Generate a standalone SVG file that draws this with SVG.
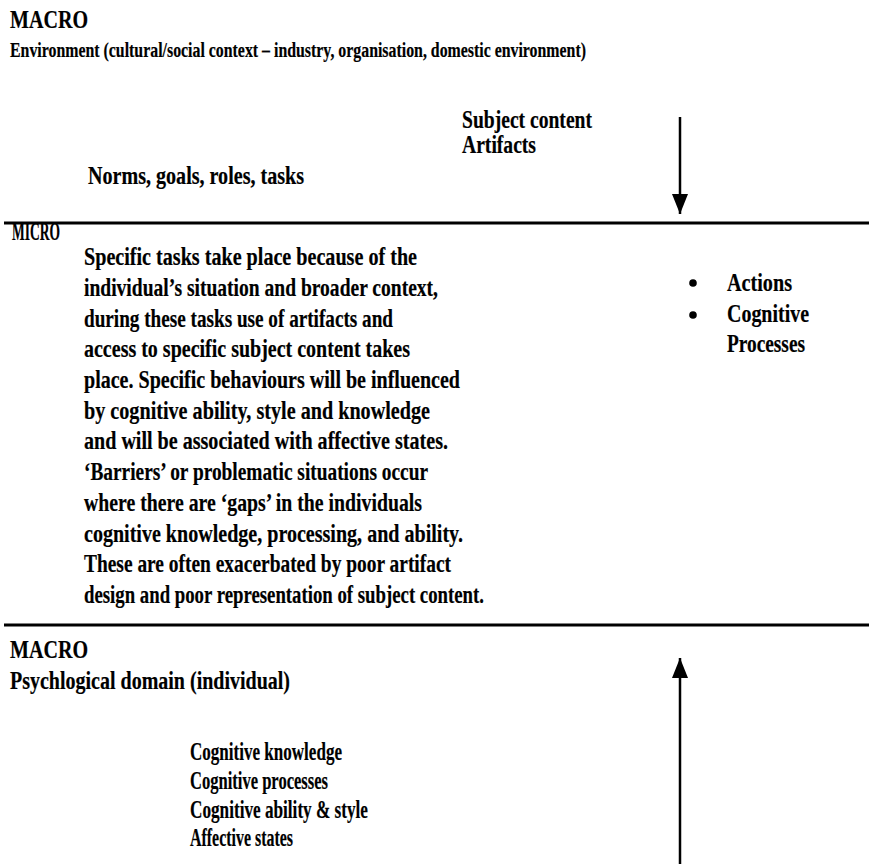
<svg xmlns="http://www.w3.org/2000/svg" width="873" height="864" viewBox="0 0 873 864">
  <style>
    text { font-family: "Liberation Serif", "Times New Roman", serif; font-size: 25px; font-weight: bold; fill: #000; stroke: #000; stroke-width: 0.2px; }
    .long { font-size: 22px; }
    .rule { stroke: #000; stroke-width: 3; }
    .flow { stroke: #000; stroke-width: 2.5; fill: none; }
  </style>
  <defs>
    <!-- solid triangular head, tip at the end of the line -->
    <marker id="head" viewBox="0 0 20 16" refX="20" refY="8" markerWidth="20" markerHeight="16" markerUnits="userSpaceOnUse" orient="auto">
      <path d="M0,0 L20,8 L0,16 Z" fill="#000"/>
    </marker>
  </defs>

  <!-- band separators -->
  <line class="rule" x1="4" y1="223" x2="869" y2="223"/>
  <line class="rule" x1="4" y1="625" x2="869" y2="625"/>

  <!-- upper macro level: environment -->
  <g id="macro-environment">
    <text x="10" y="28" textLength="78" lengthAdjust="spacingAndGlyphs">MACRO</text>
    <text class="long" x="10" y="57" textLength="576" lengthAdjust="spacingAndGlyphs">Environment (cultural/social context – industry, organisation, domestic environment)</text>
    <text x="462" y="128" textLength="130" lengthAdjust="spacingAndGlyphs">Subject content</text>
    <text x="462" y="153" textLength="74" lengthAdjust="spacingAndGlyphs">Artifacts</text>
    <text x="88" y="184" textLength="216" lengthAdjust="spacingAndGlyphs">Norms, goals, roles, tasks</text>
  </g>

  <!-- micro level: tasks and behaviours -->
  <g id="micro">
    <text x="12" y="240" textLength="48" lengthAdjust="spacingAndGlyphs">MICRO</text>
    <text x="84" y="265" textLength="333" lengthAdjust="spacingAndGlyphs">Specific tasks take place because of the</text>
    <text x="84" y="295.7" textLength="354" lengthAdjust="spacingAndGlyphs">individual’s situation and broader context,</text>
    <text x="84" y="326.5" textLength="309" lengthAdjust="spacingAndGlyphs">during these tasks use of artifacts and</text>
    <text x="84" y="357.2" textLength="326" lengthAdjust="spacingAndGlyphs">access to specific subject content takes</text>
    <text x="84" y="387.9" textLength="376" lengthAdjust="spacingAndGlyphs">place. Specific behaviours will be influenced</text>
    <text x="84" y="418.6" textLength="346" lengthAdjust="spacingAndGlyphs">by cognitive ability, style and knowledge</text>
    <text x="84" y="449.4" textLength="364" lengthAdjust="spacingAndGlyphs">and will be associated with affective states.</text>
    <text x="84" y="480.1" textLength="344" lengthAdjust="spacingAndGlyphs">‘Barriers’ or problematic situations occur</text>
    <text x="84" y="510.8" textLength="338" lengthAdjust="spacingAndGlyphs">where there are ‘gaps’ in the individuals</text>
    <text x="84" y="541.5" textLength="379" lengthAdjust="spacingAndGlyphs">cognitive knowledge, processing, and ability.</text>
    <text x="84" y="572.3" textLength="367" lengthAdjust="spacingAndGlyphs">These are often exacerbated by poor artifact</text>
    <text x="84" y="603" textLength="400" lengthAdjust="spacingAndGlyphs">design and poor representation of subject content.</text>
  </g>

  <g id="micro-bullets">
    <circle cx="693" cy="283" r="3.8" fill="#000"/>
    <circle cx="693" cy="315" r="3.8" fill="#000"/>
    <text x="727" y="291" textLength="65" lengthAdjust="spacingAndGlyphs">Actions</text>
    <text x="727" y="322" textLength="82" lengthAdjust="spacingAndGlyphs">Cognitive</text>
    <text x="727" y="352" textLength="78" lengthAdjust="spacingAndGlyphs">Processes</text>
  </g>

  <!-- lower macro level: psychological domain -->
  <g id="macro-psychological">
    <text x="10" y="658" textLength="78" lengthAdjust="spacingAndGlyphs">MACRO</text>
    <text x="10" y="689" textLength="280" lengthAdjust="spacingAndGlyphs">Psychlogical domain (individual)</text>
    <text x="190" y="760" textLength="152" lengthAdjust="spacingAndGlyphs">Cognitive knowledge</text>
    <text x="190" y="789" textLength="138" lengthAdjust="spacingAndGlyphs">Cognitive processes</text>
    <text x="190" y="818" textLength="178" lengthAdjust="spacingAndGlyphs">Cognitive ability &amp; style</text>
    <text x="190" y="846" textLength="103" lengthAdjust="spacingAndGlyphs">Affective states</text>
  </g>

  <!-- influences between levels -->
  <g id="connectors">
    <line class="flow" x1="680" y1="117" x2="680" y2="214" marker-end="url(#head)"/>
    <line class="flow" x1="680" y1="864" x2="680" y2="658" marker-end="url(#head)"/>
  </g>
</svg>
